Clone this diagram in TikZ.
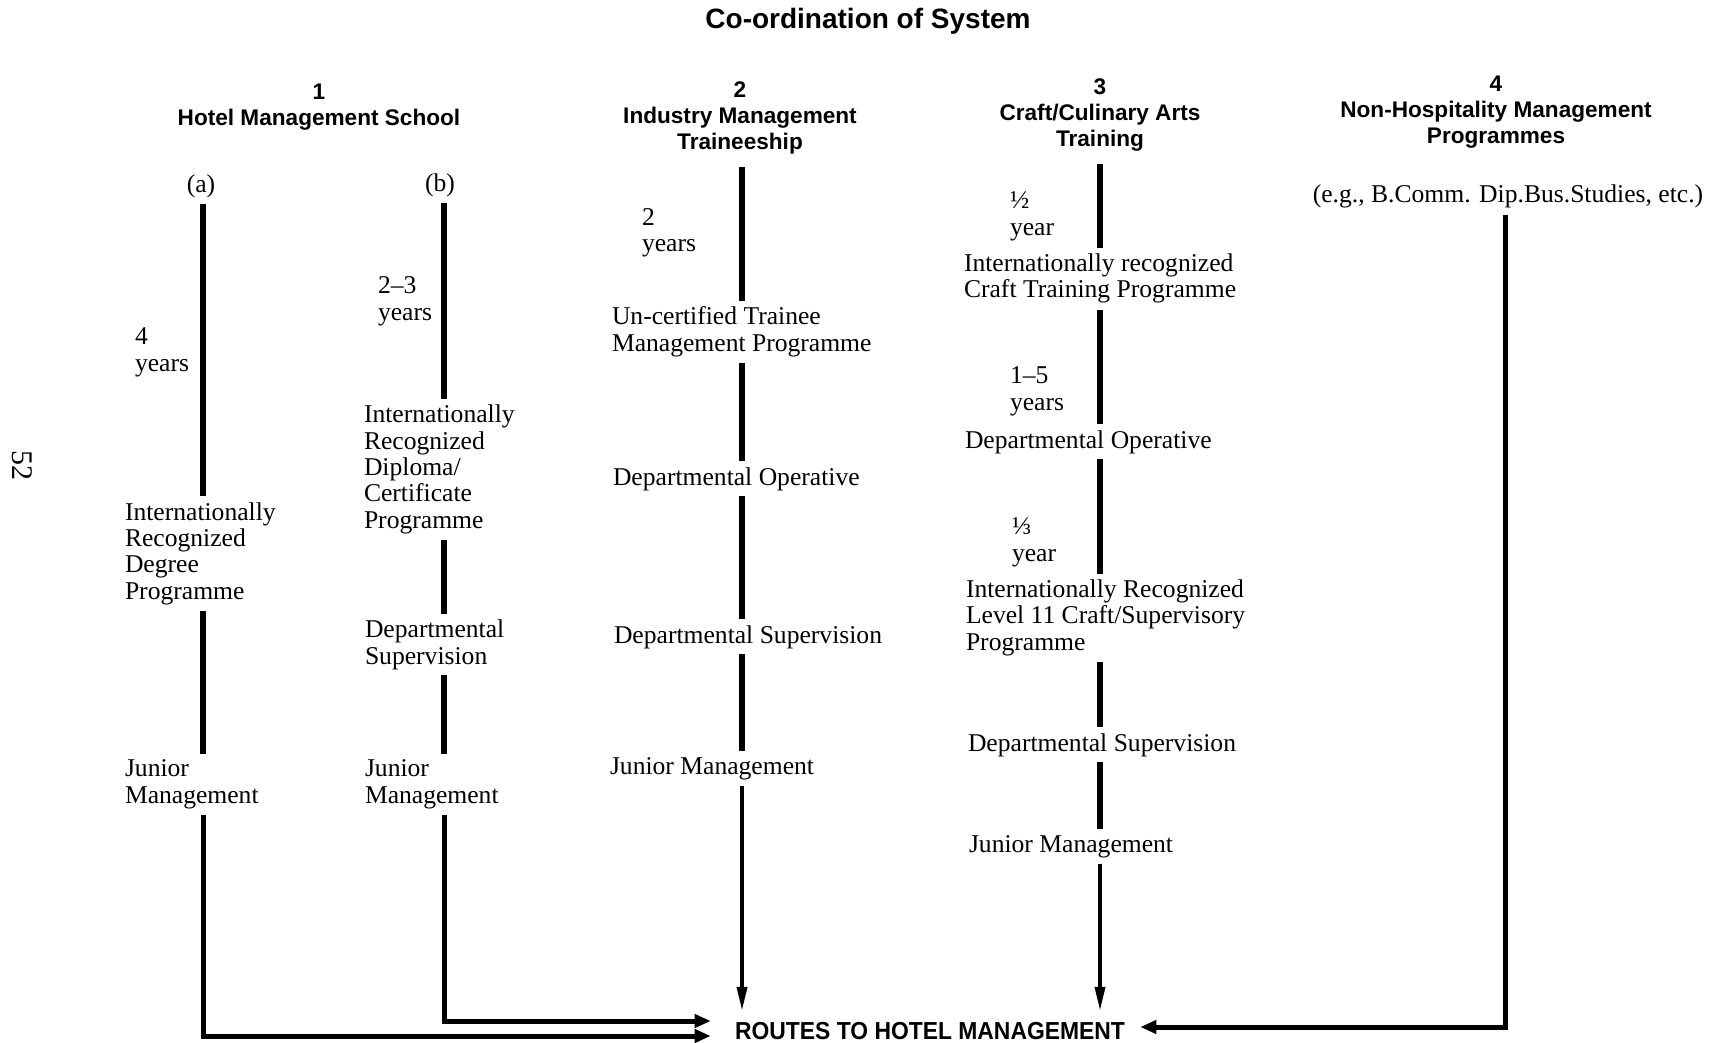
\documentclass[tikz,border=0pt]{standalone}
\usepackage{fontspec}
\setmainfont{Liberation Serif}
\newfontfamily\headfont{Liberation Sans}
\usetikzlibrary{arrows.meta}

\begin{document}
\begin{tikzpicture}[
  x=0.5pt, y=-0.5pt,
  % multi-line nodes sit on the baseline of their last line
  txt/.style = {anchor=base west, align=left, inner sep=0pt, outer sep=3pt,
    font=\fontsize{12.8}{13.15}\selectfont},
  head/.style = {anchor=base, align=center, inner sep=0pt, outer sep=6pt,
    font=\headfont\bfseries\fontsize{11.3}{13}\selectfont},
  bar/.style = {line width=2.7pt},
  route/.style = {line width=2.5pt, -{Triangle[length=8pt,width=6.5pt]}},
  drop/.style = {line width=1.8pt, -{Triangle[length=12pt,width=5pt]}},
]
  \useasboundingbox (0,0) rectangle (1723,1043);

  % titles
  \node[head, font=\headfont\bfseries\fontsize{14}{16}\selectfont] (title) at (868,29) {Co-ordination of System};
  \node[rotate=-90, inner sep=0pt, font=\fontsize{15}{15}\selectfont] (page) at (22,465) {52};
  \node[head] (h1) at (319,126) {1\\Hotel Management School};
  \node[head] (h2) at (740,150) {2\\Industry Management\\Traineeship};
  \node[head] (h3) at (1100,147) {3\\Craft/Culinary Arts\\Training};
  \node[head] (h4) at (1496,144) {4\\Non-Hospitality Management\\Programmes};

  % column x positions
  \coordinate (xa) at (203,0);
  \coordinate (xb) at (444,0);
  \coordinate (x2) at (742,0);
  \coordinate (x3) at (1100,0);
  \coordinate (x4) at (1505,0);

  % 1 (a)
  \node[txt, anchor=base] (la) at (201,193) {(a)};
  \node[txt] (ya) at (129,371) {4\\years};
  \node[txt] (deg) at (119,599) {Internationally\\Recognized\\Degree\\Programme};
  \node[txt] (jma) at (119,803) {Junior\\Management};
  % 1 (b)
  \node[txt, anchor=base] (lb) at (440,192) {(b)};
  \node[txt] (yb) at (372,320) {2--3\\years};
  \node[txt] (dip) at (358,528) {Internationally\\Recognized\\Diploma/\\Certificate\\Programme};
  \node[txt] (dsb) at (359,664) {Departmental\\Supervision};
  \node[txt] (jmb) at (359,803) {Junior\\Management};
  % 2
  \node[txt] (y2) at (636,252) {2\\years};
  \node[txt] (uct) at (606,351) {Un-certified Trainee\\Management Programme};
  \node[txt] (do2) at (607,485) {Departmental Operative};
  \node[txt] (ds2) at (608,643) {Departmental Supervision};
  \node[txt] (jm2) at (604,774) {Junior Management};
  % 3
  \node[txt] (y3a) at (1004,235) {½\\year};
  \node[txt] (ict) at (958,298) {Internationally recognized\\Craft Training Programme};
  \node[txt] (y3b) at (1004,410) {1--5\\years};
  \node[txt] (do3) at (959,448) {Departmental Operative};
  \node[txt] (y3c) at (1006,561) {⅓\\year};
  \node[txt] (lvl) at (960,650) {Internationally Recognized\\Level 11 Craft/Supervisory\\Programme};
  \node[txt] (ds3) at (962,751) {Departmental Supervision};
  \node[txt] (jm3) at (963,852) {Junior Management};
  % 4
  \node[txt, anchor=base] (eg) at (1508,203) {(e.g., B.Comm. Dip.Bus.Studies, etc.)};

  % goal
  \node[inner sep=0pt, font=\headfont\bfseries\fontsize{12.3}{14}\selectfont] (routes) at (930,1031)
    {\scalebox{0.93}[1]{ROUTES TO HOTEL MANAGEMENT}};

  % bars
  \draw[bar] (xa |- la.south) -- (xa |- deg.north);
  \draw[bar] (xa |- deg.south) -- (xa |- jma.north);
  \draw[bar] (xb |- lb.south) -- (xb |- dip.north);
  \draw[bar] (xb |- dip.south) -- (xb |- dsb.north);
  \draw[bar] (xb |- dsb.south) -- (xb |- jmb.north);
  \draw[bar] (x2 |- h2.south) -- (x2 |- uct.north);
  \draw[bar] (x2 |- uct.south) -- (x2 |- do2.north);
  \draw[bar] (x2 |- do2.south) -- (x2 |- ds2.north);
  \draw[bar] (x2 |- ds2.south) -- (x2 |- jm2.north);
  \draw[bar] (x3 |- h3.south) -- (x3 |- ict.north);
  \draw[bar] (x3 |- ict.south) -- (x3 |- do3.north);
  \draw[bar] (x3 |- do3.south) -- (x3 |- lvl.north);
  \draw[bar] (x3 |- lvl.south) -- (x3 |- ds3.north);
  \draw[bar] (x3 |- ds3.south) -- (x3 |- jm3.north);

  % routes
  \draw[route, shorten >=12pt] (xa |- jma.south) |- ([yshift=-2.5pt]routes.west);
  \draw[route, shorten >=12pt] (xb |- jmb.south) |- ([yshift=5pt]routes.west);
  \draw[route, shorten >=7.5pt] (x4 |- eg.south) |- ([yshift=2pt]routes.east);
  \draw[drop, shorten >=5.5pt] (x2 |- jm2.south) -- (x2 |- routes.north);
  \draw[drop, shorten >=5.5pt] (x3 |- jm3.south) -- (x3 |- routes.north);
\end{tikzpicture}
\end{document}
